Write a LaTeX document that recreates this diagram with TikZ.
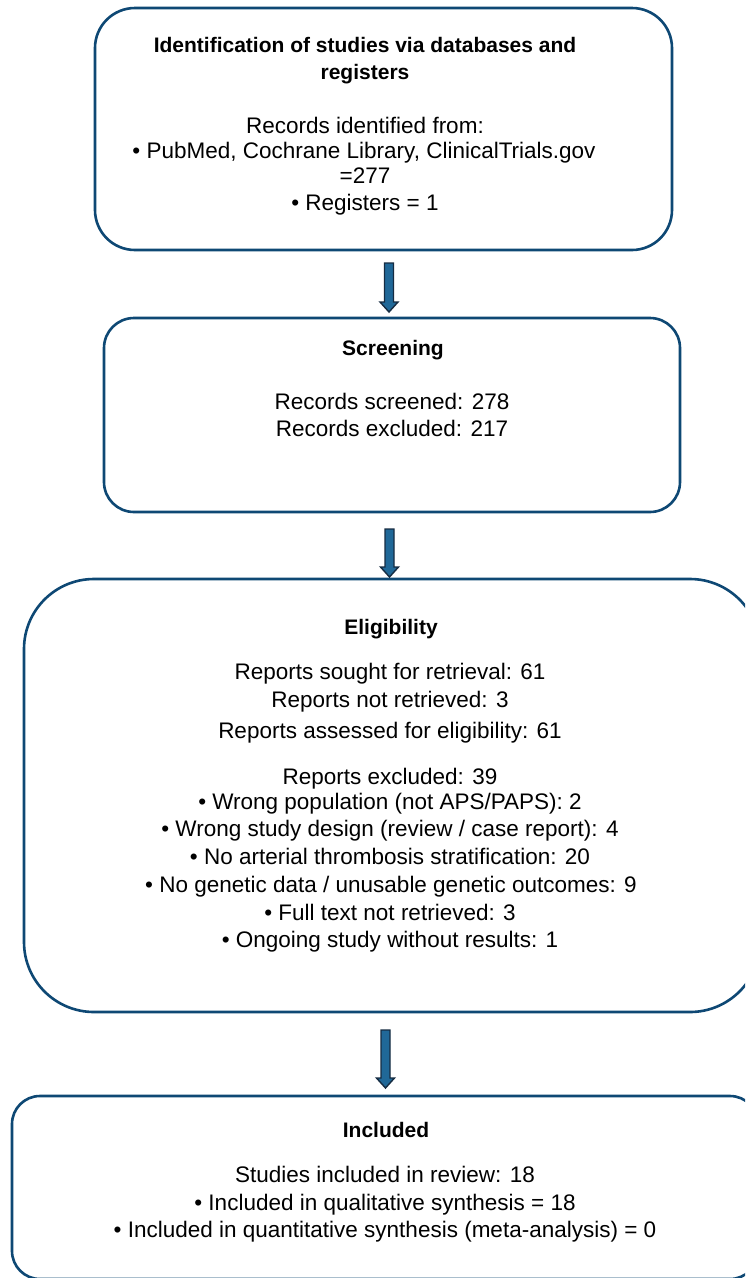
\documentclass[tikz,border=0pt]{standalone}
\usepackage{fontspec}
\setmainfont{Liberation Sans}
\usetikzlibrary{calc}
\definecolor{boxblue}{RGB}{14,72,116}
\definecolor{arrowfill}{RGB}{32,104,152}
\definecolor{arrowline}{RGB}{22,44,66}
\tikzset{
  box/.style={draw=boxblue, line width=2.6pt, rectangle, inner sep=0pt},
  txt/.style={anchor=base, inner sep=0pt, font=\fontsize{22.5}{27}\selectfont},
  ttl/.style={anchor=base, inner sep=0pt, font=\fontsize{21}{27}\selectfont\bfseries},
  blockarrow/.style={fill=arrowfill, draw=arrowline, line width=1.4pt, line join=miter}
}
\begin{document}
\begin{tikzpicture}[x=1pt, y=-1pt]
\clip (0,0) rectangle (745,1278);
\fill[white] (0,0) rectangle (745,1278);
% boxes
\node[box, minimum width=577, minimum height=242, rounded corners=40pt] (b1) at (383.5,129) {};
\node[box, minimum width=576, minimum height=194, rounded corners=30pt] (b2) at (392,415) {};
\node[box, minimum width=736, minimum height=433, rounded corners=70pt] (b3) at (392,795.5) {};
\node[box, minimum width=746, minimum height=183, rounded corners=28pt] (b4) at (385,1187.5) {};
% box 1 text
\node[ttl] (t1a) at (365,52) {Identification of studies via databases and};
\node[ttl] (t1b) at (365,79) {registers};
\node[txt] (l1a) at (365,133) {Records identified from:};
\node[txt] (l1b) at (364,158) {• PubMed, Cochrane Library, ClinicalTrials.gov};
\node[txt] (l1c) at (365,183) {=277};
\node[txt] (l1d) at (365,210) {• Registers = 1};
% box 2 text
\node[ttl] (t2) at (393,355) {Screening};
\node[txt] (l2a) at (392,409) {Records screened: 278};
\node[txt] (l2b) at (392,436) {Records excluded: 217};
% box 3 text
\node[ttl] (t3) at (391,634) {Eligibility};
\node[txt] (l3a) at (390,679) {Reports sought for retrieval: 61};
\node[txt] (l3b) at (390,707) {Reports not retrieved: 3};
\node[txt] (l3c) at (390,738) {Reports assessed for eligibility: 61};
\node[txt] (l3d) at (390,784) {Reports excluded: 39};
\node[txt] (l3e) at (390,809) {• Wrong population (not APS/PAPS): 2};
\node[txt] (l3f) at (390,836) {• Wrong study design (review / case report): 4};
\node[txt] (l3g) at (390,864) {• No arterial thrombosis stratification: 20};
\node[txt] (l3h) at (391,892) {• No genetic data / unusable genetic outcomes: 9};
\node[txt] (l3i) at (390,920) {• Full text not retrieved: 3};
\node[txt] (l3j) at (390,947) {• Ongoing study without results: 1};
% box 4 text
\node[ttl] (t4) at (386,1137) {Included};
\node[txt] (l4a) at (385,1182) {Studies included in review: 18};
\node[txt] (l4b) at (385,1210) {• Included in qualitative synthesis = 18};
\node[txt] (l4c) at (385,1237) {• Included in quantitative synthesis (meta-analysis) = 0};
% arrows
\coordinate (a1t) at (389,263);
\coordinate (a1b) at (389,312);
\coordinate (a2t) at (389.5,529);
\coordinate (a2b) at (389.5,577);
\coordinate (a3t) at (385.5,1030);
\coordinate (a3b) at (385.5,1088);
\foreach \s/\e in {a1t/a1b, a2t/a2b, a3t/a3b}{
  \draw[blockarrow] ($(\s)+(-4.5,0)$) -- ($(\s)+(4.5,0)$) -- ($(\e)+(4.5,-10)$) -- ($(\e)+(9,-10)$) -- (\e) -- ($(\e)+(-9,-10)$) -- ($(\e)+(-4.5,-10)$) -- cycle;
}
\end{tikzpicture}
\end{document}
